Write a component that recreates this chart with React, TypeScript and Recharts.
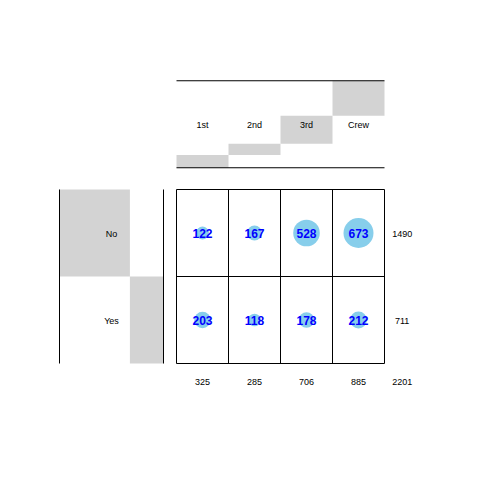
import {
  LabelList, ReferenceArea, ReferenceDot, ReferenceLine, Scatter, ScatterChart, XAxis, YAxis, ZAxis,
} from "recharts";

const classes = ["1st", "2nd", "3rd", "Crew"];
const survived = ["No", "Yes"];
const countNo = [122, 167, 528, 673];
const countYes = [203, 118, 178, 212];
const classTotals = [325, 285, 706, 885];
const survivedTotals = [1490, 711];
const grandTotal = 2201;

// layout in cell units (one column / one row = 1)
const GAP = 0.25;
const HEADER = 1;
const SIDE = 2;
const TOTAL_X = 4.34;
const TOTAL_Y = 2.2;
const MAX_R = 15;
const GREY = "#D3D3D3";
const labelStyle = { fontSize: 9, fill: "#000", dy: 1 };

const cells = classes.flatMap((c, i) => [
  { x: i + 0.5, y: 0.5, value: countNo[i], name: `${c} No` },
  { x: i + 0.5, y: 1.5, value: countYes[i], name: `${c} Yes` },
]);

const cum = (arr: number[], i: number) => arr.slice(0, i).reduce((a, b) => a + b, 0);

export default function App() {
  const maxVal = Math.max(...countNo, ...countYes);
  return (
    <div style={{ width: 480, height: 480, fontFamily: "'Liberation Sans', Arial, sans-serif" }}>
      <style>{"body{margin:0}"}</style>
      <ScatterChart width={480} height={480} margin={{ top: 189.5, left: 176.5, right: 95.5, bottom: 116.5 }}>
        <XAxis type="number" dataKey="x" domain={[0, 4]} hide height={0} allowDataOverflow />
        <YAxis type="number" dataKey="y" domain={[0, 2]} reversed hide width={0} allowDataOverflow />
        <ZAxis type="number" dataKey="value" domain={[0, maxVal]} range={[0, Math.PI * MAX_R * MAX_R]} />

        {/* column marginal bars (staircase) */}
        {classTotals.map((t, i) => (
          <ReferenceArea key={`cb${i}`} x1={i} x2={i + 1}
            y1={-GAP - cum(classTotals, i) / grandTotal * HEADER}
            y2={-GAP - cum(classTotals, i + 1) / grandTotal * HEADER}
            fill={GREY} fillOpacity={1} stroke="none" ifOverflow="visible" />
        ))}
        {/* row marginal bars */}
        {survivedTotals.map((t, j) => (
          <ReferenceArea key={`rb${j}`} y1={j} y2={j + 1}
            x1={-GAP - SIDE + cum(survivedTotals, j) / grandTotal * SIDE}
            x2={-GAP - SIDE + cum(survivedTotals, j + 1) / grandTotal * SIDE}
            fill={GREY} fillOpacity={1} stroke="none" ifOverflow="visible" />
        ))}

        {/* cell grid */}
        {[0, 1, 2, 3, 4].map((x) => (
          <ReferenceLine key={`vx${x}`} x={x} stroke="#000" strokeWidth={1} ifOverflow="visible" />
        ))}
        {[0, 1, 2].map((y) => (
          <ReferenceLine key={`hy${y}`} y={y} stroke="#000" strokeWidth={1} ifOverflow="visible" />
        ))}
        {/* header rules */}
        {[-GAP, -GAP - HEADER].map((y) => (
          <ReferenceLine key={`hr${y}`} segment={[{ x: 0, y }, { x: 4, y }]} stroke="#000" ifOverflow="visible" />
        ))}
        {[-GAP, -GAP - SIDE].map((x) => (
          <ReferenceLine key={`sr${x}`} segment={[{ x, y: 0 }, { x, y: 2 }]} stroke="#000" ifOverflow="visible" />
        ))}

        <Scatter data={cells} fill="#87CEEB" isAnimationActive={false}>
          <LabelList dataKey="value" position="center" fill="#0000FF" fontSize={12} fontWeight="bold" dy={1} />
        </Scatter>

        {classes.map((c, i) => (
          <ReferenceDot key={`cl${i}`} x={i + 0.5} y={-GAP - HEADER / 2} r={0} stroke="none"
            ifOverflow="visible" label={{ value: c, position: "center", ...labelStyle }} />
        ))}
        {survived.map((s, j) => (
          <ReferenceDot key={`rl${j}`} x={-GAP - SIDE / 2} y={j + 0.5} r={0} stroke="none"
            ifOverflow="visible" label={{ value: s, position: "center", ...labelStyle }} />
        ))}
        {classTotals.map((t, i) => (
          <ReferenceDot key={`ct${i}`} x={i + 0.5} y={TOTAL_Y} r={0} stroke="none"
            ifOverflow="visible" label={{ value: t, position: "center", ...labelStyle }} />
        ))}
        {survivedTotals.map((t, j) => (
          <ReferenceDot key={`rt${j}`} x={TOTAL_X} y={j + 0.5} r={0} stroke="none"
            ifOverflow="visible" label={{ value: t, position: "center", ...labelStyle }} />
        ))}
        <ReferenceDot x={TOTAL_X} y={TOTAL_Y} r={0} stroke="none" ifOverflow="visible"
          label={{ value: grandTotal, position: "center", ...labelStyle }} />
      </ScatterChart>
    </div>
  );
}
